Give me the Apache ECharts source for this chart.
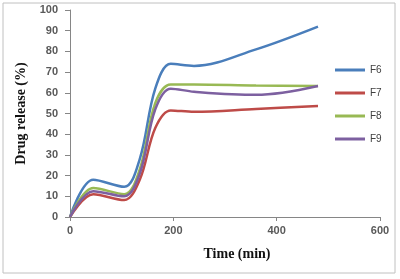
<!DOCTYPE html>
<html>
<head>
<meta charset="utf-8">
<script src="https://cdn.jsdelivr.net/npm/echarts@6/dist/echarts.min.js"></script>
<style>
  html, body { margin: 0; padding: 0; background: #fff; }
  #box { width: 400px; height: 279px; }
</style>
</head>
<body>
<div id="box"></div>
<script>
// 时间点 (min)
var times = [0, 45, 105, 135, 165, 195, 240, 360, 480];
// 各配方释放量 (%)
var f6 = [0, 18, 14.6, 28, 62, 74, 73, 81, 92];
var f7 = [0, 11, 8.2, 18, 43, 51.5, 50.8, 52.2, 53.6];
var f8 = [0, 14, 11, 23, 55, 64, 64, 63.5, 63.3];
var f9 = [0, 12.5, 10, 21, 52, 62, 60.5, 59, 63.3];
var xTicks = [0, 200, 400, 600];
var yTicks = [0, 10, 20, 30, 40, 50, 60, 70, 80, 90, 100];

function pairs(vals) {
  return times.map(function (t, i) { return [t, vals[i]]; });
}

var myChart = echarts.init(document.getElementById('box'));

var labelFont = { color: '#595959', fontSize: 11, fontWeight: 'bold', fontFamily: 'Liberation Sans, Arial' };
var nameFont = { color: '#111', fontSize: 14, fontWeight: 'bold', fontFamily: 'Liberation Serif, DejaVu Serif, serif' };

function line(name, vals, color) {
  return {
    name: name,
    type: 'line',
    smooth: 0.35,
    showSymbol: false,
    data: pairs(vals),
    lineStyle: { color: color, width: 2.5 },
    itemStyle: { color: color }
  };
}

var option = {
  animation: false,
  grid: { left: 70, right: 20, top: 10, bottom: 62 },
  graphic: [{
    type: 'rect',
    shape: { x: 3, y: 3, width: 392, height: 270 },
    style: { fill: 'none', stroke: '#c0c0c0', lineWidth: 1 }
  }],
  legend: {
    orient: 'vertical',
    left: 330,
    top: 60,
    itemWidth: 30,
    itemHeight: 3,
    itemGap: 13,
    icon: 'rect',
    textStyle: { color: '#404040', fontSize: 10, fontFamily: 'Liberation Sans, Arial' },
    data: ['F6', 'F7', 'F8', 'F9']
  },
  xAxis: {
    type: 'value',
    min: 0,
    max: xTicks[xTicks.length - 1],
    interval: 200,
    name: 'Time (min)',
    nameLocation: 'middle',
    nameGap: 30,
    nameTextStyle: Object.assign({ padding: [0, 0, 0, 24] }, nameFont),
    axisLine: { lineStyle: { color: '#868686' } },
    axisTick: { length: 4, lineStyle: { color: '#868686' } },
    splitLine: { show: false },
    axisLabel: Object.assign({ margin: 8 }, labelFont)
  },
  yAxis: {
    type: 'value',
    min: 0,
    max: yTicks[yTicks.length - 1],
    interval: 10,
    name: 'Drug release (%)',
    nameLocation: 'middle',
    nameGap: 42,
    nameTextStyle: nameFont,
    axisLine: { show: true, lineStyle: { color: '#868686' } },
    axisTick: { show: true, length: 5, lineStyle: { color: '#868686' } },
    splitLine: { show: false },
    axisLabel: Object.assign({ margin: 12 }, labelFont)
  },
  series: [
    line('F6', f6, '#4a7ebb'),
    line('F7', f7, '#be4b48'),
    line('F8', f8, '#98b954'),
    line('F9', f9, '#7d60a0')
  ]
};

myChart.setOption(option);
</script>
</body>
</html>
